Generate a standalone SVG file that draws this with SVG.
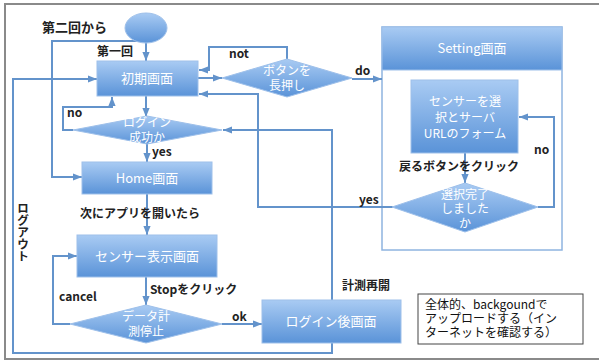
<svg xmlns="http://www.w3.org/2000/svg" width="599" height="363" viewBox="0 0 599 363">
<style>
.node{fill:url(#g);stroke:#9ec0ea;stroke-width:1}
.nt{font-family:"Noto Sans CJK JP","Liberation Sans",sans-serif;font-size:13px;fill:#fff;text-anchor:middle}
.dt{font-family:"Noto Sans CJK JP","Liberation Sans",sans-serif;font-size:12px;fill:#fff;text-anchor:middle}
.lb{font-family:"Noto Sans CJK JP","Liberation Sans",sans-serif;font-size:12px;font-weight:bold;fill:#222}
.nn{font-family:"Noto Sans CJK JP","Liberation Sans",sans-serif;font-size:12px;fill:#111}
.c{fill:none;stroke:#6393cb;stroke-width:2}
</style>
<defs>
<linearGradient id="g" x1="0" y1="0" x2="0" y2="1">
<stop offset="0" stop-color="#a9cbf3"/>
<stop offset="1" stop-color="#5a93d8"/>
</linearGradient>
<marker id="a" markerUnits="userSpaceOnUse" markerWidth="9" markerHeight="9" viewBox="0 0 10 10" refX="10" refY="5" orient="auto">
<path d="M0,1 L10,5 L0,9 Z" fill="#6393cb"/>
</marker>
</defs>
<rect x="0" y="0" width="599" height="363" fill="#fff"/>
<rect x="5" y="4" width="600" height="355" fill="none" stroke="#8a8a8a" stroke-width="2"/>

<g id="setting">
<rect x="382" y="27" width="180" height="223" fill="#fff" stroke="#8fb4e0" stroke-width="1.5"/>
<rect x="382" y="27" width="180" height="43" class="node"/>
<text x="472" y="53" class="nt">Setting画面</text>
</g>

<g id="connectors">
<path class="c" d="M146,43 V61" marker-end="url(#a)"/>
<path class="c" d="M146,41 H52 V177 H82" marker-end="url(#a)"/>
<path class="c" d="M198,78 H222" marker-end="url(#a)"/>
<path class="c" d="M287,59 V47 H209 V70 H199" marker-end="url(#a)"/>
<path class="c" d="M352,79 H382" marker-end="url(#a)"/>
<path class="c" d="M146,96 V117" marker-end="url(#a)"/>
<path class="c" d="M73,130 H63 V107 H112 V97" marker-end="url(#a)"/>
<path class="c" d="M147,143 V162" marker-end="url(#a)"/>
<path class="c" d="M147,194 V235" marker-end="url(#a)"/>
<path class="c" d="M146,277 V305" marker-end="url(#a)"/>
<path class="c" d="M70,324 H53 V256 H77" marker-end="url(#a)"/>
<path class="c" d="M222,324 H262" marker-end="url(#a)"/>
<path class="c" d="M332,300 V130 H223" marker-end="url(#a)"/>
<path class="c" d="M332,343 V353 H13 V79 H97" marker-end="url(#a)"/>
<path class="c" d="M393,207 H258 V94 H199" marker-end="url(#a)"/>
<path class="c" d="M465,153 V183" marker-end="url(#a)"/>
<path class="c" d="M538,207 H554 V117 H519" marker-end="url(#a)"/>
</g>

<g id="start"><ellipse cx="146" cy="28" rx="21" ry="15" class="node"/></g>

<g id="shoki"><rect x="97" y="61" width="101" height="35" class="node"/><text x="147" y="83" class="nt">初期画面</text></g>

<g id="button"><polygon points="222,78 287,59 352,78 287,97" class="node"/><text x="287" y="75" class="dt">ボタンを</text><text x="287" y="90" class="dt">長押し</text></g>

<g id="login"><polygon points="73,130 147,116 222,130 147,144" class="node"/><text x="147" y="127" class="dt">ログイン</text><text x="147" y="142" class="dt">成功か</text></g>

<g id="home"><rect x="82" y="162" width="130" height="32" class="node"/><text x="147" y="183" class="nt">Home画面</text></g>

<g id="sensor"><rect x="77" y="235" width="140" height="42" class="node"/><text x="147" y="261" class="nt">センサー表示画面</text></g>

<g id="stop"><polygon points="70,324 146,305 222,324 146,343" class="node"/><text x="146" y="321" class="dt">データ計</text><text x="146" y="336" class="dt">測停止</text></g>

<g id="after"><rect x="262" y="300" width="139" height="43" class="node"/><text x="331" y="326" class="nt">ログイン後画面</text></g>

<g id="form"><rect x="411" y="80" width="107" height="73" class="node"/><text x="465" y="106" class="dt">センサーを選</text><text x="465" y="122" class="dt">択とサーバ</text><text x="465" y="138" class="dt">URLのフォーム</text></g>

<g id="done"><polygon points="392,207 465,183 538,207 465,232" class="node"/><text x="465" y="199" class="dt">選択完了</text><text x="465" y="213" class="dt">しました</text><text x="465" y="228" class="dt">か</text></g>

<g id="note"><rect x="418" y="294" width="165" height="50" fill="#fff" stroke="#444" stroke-width="1"/>
<text x="425" y="309" class="nn">全体的、backgoundで</text>
<text x="425" y="323" class="nn">アップロードする（イン</text>
<text x="425" y="337" class="nn">ターネットを確認する）</text>
</g>

<g id="labels">
<text x="42" y="32" class="lb" style="font-size:13px">第二回から</text>
<text x="97" y="56" class="lb">第一回</text>
<text x="229" y="58" class="lb">not</text>
<text x="355" y="75" class="lb">do</text>
<text x="67" y="117" class="lb">no</text>
<text x="152" y="156" class="lb">yes</text>
<text x="80" y="218" class="lb">次にアプリを開いたら</text>
<text x="399" y="171" class="lb">戻るボタンをクリック</text>
<text x="534" y="154" class="lb">no</text>
<text x="359" y="204" class="lb">yes</text>
<text x="150" y="294" class="lb">Stopをクリック</text>
<text x="59" y="301" class="lb">cancel</text>
<text x="232" y="321" class="lb">ok</text>
<text x="342" y="290" class="lb">計測再開</text>
<text x="23" y="202" class="lb" writing-mode="vertical-rl" style="text-orientation:upright">ログアウト</text>
</g>
</svg>
